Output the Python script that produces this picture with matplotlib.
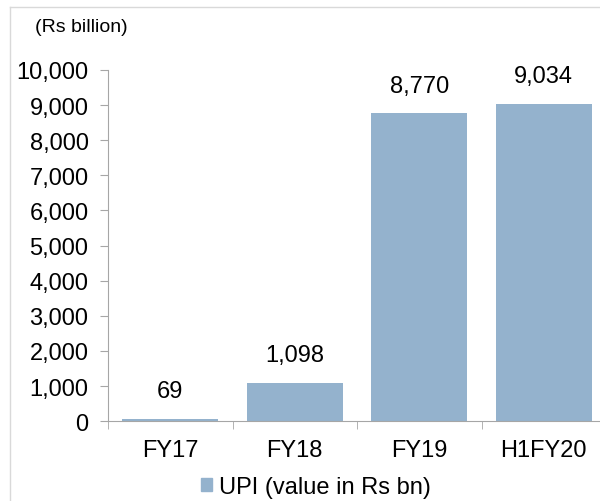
import matplotlib
matplotlib.use("Agg")
from matplotlib import pyplot as plt
from matplotlib.patches import Rectangle

# Data
categories = ["FY17", "FY18", "FY19", "H1FY20"]
values = [69, 1098, 8770, 9034]
y_ticks = [0, 1000, 2000, 3000, 4000, 5000, 6000, 7000, 8000, 9000, 10000]

bar_color = "#94B2CD"
axis_color = "#A6A6A6"

plt.rcParams["font.family"] = ["Liberation Sans", "DejaVu Sans"]

fig = plt.figure(figsize=(6.0, 5.02), dpi=100)
ax = fig.add_axes([0.18, 0.159, 0.83, 0.6996])

# Light frame around the chart (only top and left visible)
fig.add_artist(plt.Line2D([10 / 600, 1.0], [1 - 8 / 502, 1 - 8 / 502],
                          transform=fig.transFigure, color="#D9D9D9", lw=1))
fig.add_artist(plt.Line2D([10 / 600, 10 / 600], [0, 1 - 8 / 502],
                          transform=fig.transFigure, color="#D9D9D9", lw=1))

x = list(range(len(categories)))
bars = ax.bar(x, values, width=0.77, color=bar_color, label="UPI (value in Rs bn)")

for xi, v in zip(x, values):
    ax.annotate(f"{v:,}", (xi, v), xytext=(0, 12), textcoords="offset points",
                ha="center", va="bottom", fontsize=17)

ax.set_xlim(-0.5, len(categories) - 0.5)
ax.set_ylim(0, 10000)
ax.set_yticks(y_ticks)
ax.set_yticklabels([f"{t:,}" for t in y_ticks], fontsize=17)

ax.set_xticks(x)
ax.set_xticklabels(categories, fontsize=17)
ax.tick_params(axis="x", length=0, pad=13)
# boundary ticks between categories
ax.set_xticks([i - 0.5 for i in range(len(categories) + 1)], minor=True)
ax.tick_params(axis="x", which="minor", length=6, color=axis_color, direction="out")
ax.tick_params(axis="y", length=6, color=axis_color, pad=8)

for s in ["top", "right"]:
    ax.spines[s].set_visible(False)
ax.spines["left"].set_color(axis_color)
ax.spines["bottom"].set_color(axis_color)

fig.text(81 / 600, 1 - 27 / 502, "(Rs billion)", ha="center", va="center", fontsize=14)

fig.legend(handles=[Rectangle((0, 0), 1, 1, color=bar_color)],
           labels=["UPI (value in Rs bn)"], loc="center",
           bbox_to_anchor=(316 / 600, 1 - 488 / 502), frameon=False,
           fontsize=17, handlelength=0.45, handleheight=0.45, handletextpad=0.3)

fig.savefig("out.png", dpi=100)
